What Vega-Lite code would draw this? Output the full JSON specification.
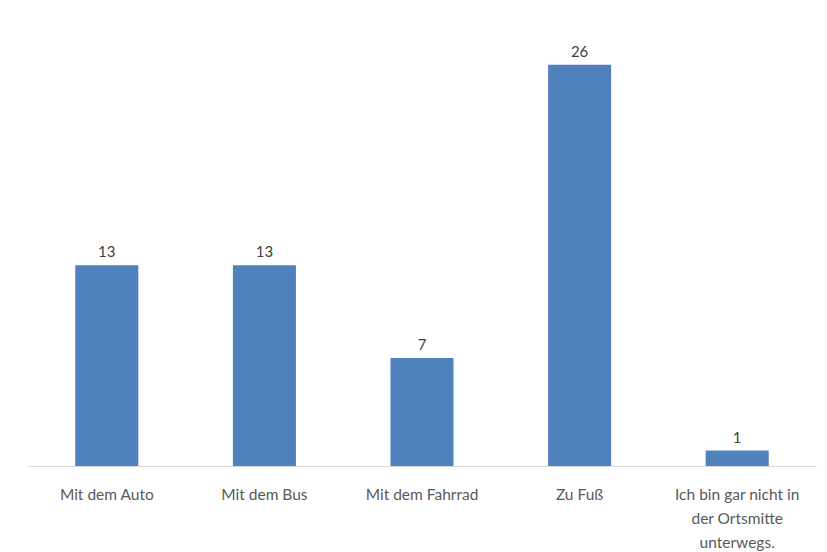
{
  "$schema": "https://vega.github.io/schema/vega-lite/v6.json",
  "width": 788,
  "height": 463,
  "autosize": {"type": "none"},
  "padding": {"left": 28, "top": 3, "right": 11, "bottom": 86},
  "background": "white",
  "config": {"view": {"stroke": null}, "font": "Lato"},
  "data": {
    "values": [
      {"kategorie": "Mit dem Auto", "anzahl": 13},
      {"kategorie": "Mit dem Bus", "anzahl": 13},
      {"kategorie": "Mit dem Fahrrad", "anzahl": 7},
      {"kategorie": "Zu Fuß", "anzahl": 26},
      {"kategorie": "Ich bin gar nicht in der Ortsmitte unterwegs.", "anzahl": 1}
    ]
  },
  "encoding": {
    "x": {
      "field": "kategorie",
      "type": "nominal",
      "sort": null,
      "scale": {"paddingInner": 0.6, "paddingOuter": 0.3},
      "axis": {
        "title": null,
        "labelAngle": 0,
        "ticks": false,
        "domainColor": "#d9d9d9",
        "domainWidth": 1,
        "labelColor": "#595959",
        "labelFontSize": 15.5,
        "labelPadding": 21,
        "labelLineHeight": 24,
        "labelLimit": 220,
        "labelExpr": "datum.value == 'Ich bin gar nicht in der Ortsmitte unterwegs.' ? ['Ich bin gar nicht in', 'der Ortsmitte', 'unterwegs.'] : datum.value"
      }
    },
    "y": {
      "field": "anzahl",
      "type": "quantitative",
      "scale": {"domain": [0, 30]},
      "axis": null
    }
  },
  "layer": [
    {"mark": {"type": "bar", "color": "#4f81bd"}},
    {
      "mark": {"type": "text", "dy": -13, "fontSize": 15, "color": "#404040"},
      "encoding": {"text": {"field": "anzahl", "type": "quantitative"}}
    }
  ]
}
